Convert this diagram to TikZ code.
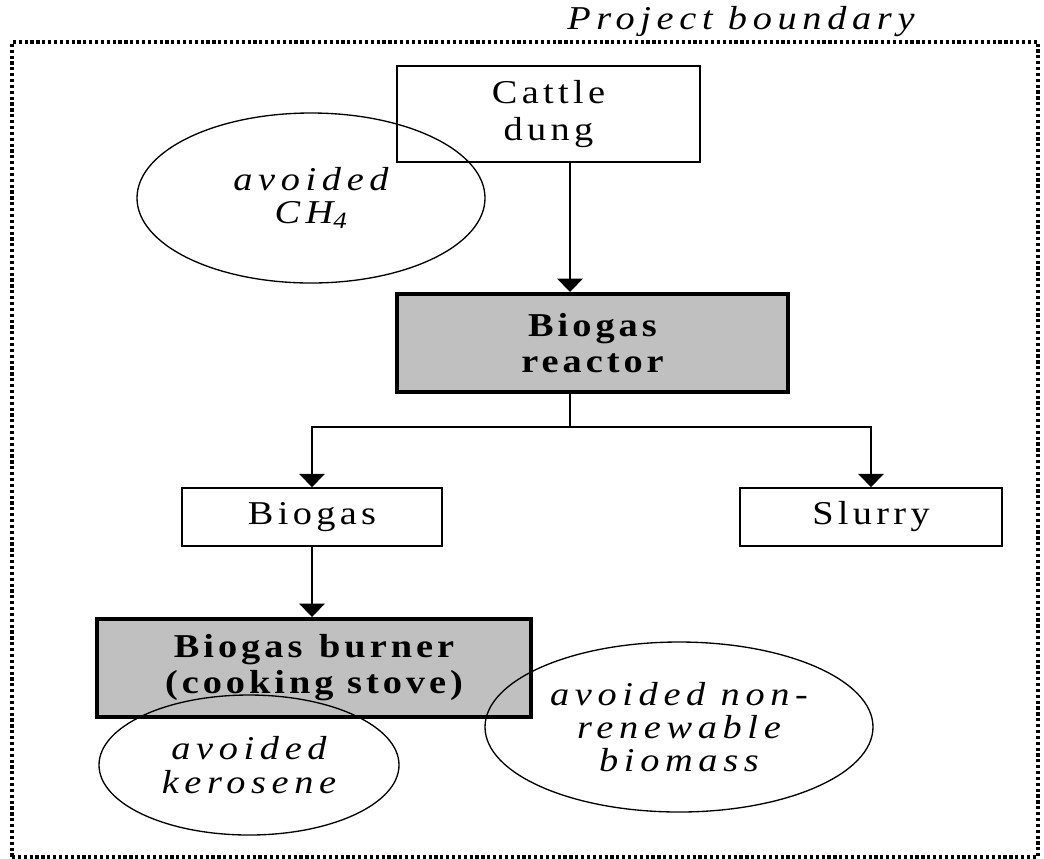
\documentclass[tikz,border=0pt]{standalone}
\usepackage{fontspec}
\setmainfont{Liberation Serif}[FakeStretch=1.15,LetterSpace=13,ItalicFeatures={LetterSpace=17},BoldFeatures={LetterSpace=12}]
\usepackage{tikz}
\usetikzlibrary{shapes,arrows.meta,positioning}
\definecolor{boxgrey}{RGB}{192,192,192}

\begin{document}
\begin{tikzpicture}[
    x=0.75pt, y=-0.75pt,
    every node/.style={font=\fontsize{25}{28}\selectfont},
    flowbox/.style={rectangle, draw, line width=1.2pt, inner sep=0pt, align=center},
    stage/.style={flowbox, fill=boxgrey, line width=3pt, font=\fontsize{25}{27}\selectfont\bfseries},
    effect/.style={ellipse, draw, line width=1pt, inner sep=0pt, align=center, font=\fontsize{25}{25}\selectfont\itshape},
    boundary/.style={rectangle, draw, line width=2.4pt, dash pattern=on 2.4pt off 2pt},
    arrow/.style={-{Triangle[width=19pt,length=10pt]}, line width=1.5pt},
    link/.style={line width=1.5pt}
]
\useasboundingbox (0,0) rectangle (1044,858);

% project boundary
\node[boundary, minimum width=769.5pt, minimum height=611.25pt] (bound) at (525,449.5) {};
\node[font=\fontsize{25}{28}\selectfont\itshape, anchor=base west, inner sep=0pt] (title) at (567,29) {Project boundary};

% flow boxes
\node[flowbox, minimum width=227.25pt, minimum height=72pt] (dung) at (548.5,114) {Cattle\\dung};
\node[stage, minimum width=293.25pt, minimum height=73.5pt] (reactor) at (592.5,343) {Biogas\\reactor};
\node[flowbox, minimum width=195pt, minimum height=43.5pt] (biogas) at (312,517) {Biogas};
\node[flowbox, minimum width=196.5pt, minimum height=43.5pt] (slurry) at (871,517) {Slurry};
\node[stage, minimum width=325.5pt, minimum height=73.5pt] (burner) at (314,668) {Biogas\enspace burner\\(cooking stove)};

% avoided emissions
\node[effect, minimum width=261pt, minimum height=127.5pt] (ch4) at (311,198) {avoided\\CH\textsubscript{4}};
\node[effect, minimum width=225pt, minimum height=105pt] (kero) at (249,765) {avoided\\kerosene};
\node[effect, minimum width=291pt, minimum height=127.5pt] (nrb) at (679,727) {avoided non-\\renewable\\biomass};

% connectors
\coordinate (drop) at (570,0);
\coordinate (split) at (570,427);
\draw[arrow] (dung.south -| drop) -- (reactor.north -| drop);
\draw[link] (reactor.south -| split) -- (split);
\draw[arrow] (split) -| (biogas.north);
\draw[arrow] (split) -| (slurry.north);
\draw[arrow] (biogas.south) -- (biogas.south |- burner.north);
\end{tikzpicture}
\end{document}
